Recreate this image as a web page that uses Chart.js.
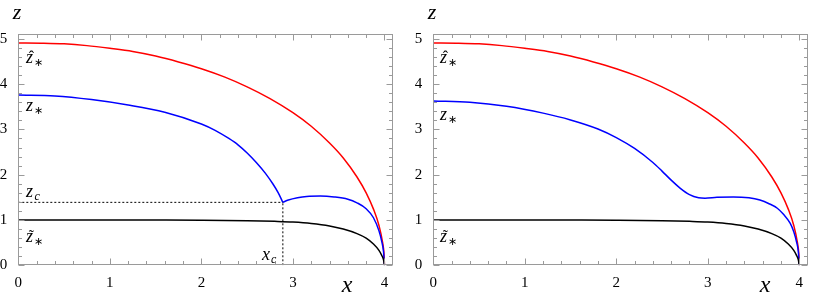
<!DOCTYPE html>
<html><head><meta charset="utf-8">
<script src="https://cdn.jsdelivr.net/npm/chart.js@4"></script>
<style>
body{margin:0;background:#fff;width:814px;height:300px;overflow:hidden;position:relative}
.p{position:absolute;top:0;width:407px;height:300px}
</style></head><body>
<div class="p" style="left:0"><canvas id="c1" width="407" height="300"></canvas></div>
<div class="p" style="left:407px"><canvas id="c2" width="407" height="300"></canvas></div>
<script>
// ---- data ----
const xTicks = [0, 1, 2, 3, 4];
const zTicks = [0, 1, 2, 3, 4, 5];

// red: z-hat-star (same in both panels)
const xRed = [0,0.25,0.5,0.75,1,1.25,1.5,1.75,2,2.25,2.5,2.75,3,3.2,3.4,3.55,3.7,3.8,3.88,3.94,3.98,3.995,4];
const zRed = [4.91,4.905,4.89,4.85,4.79,4.72,4.62,4.49,4.34,4.16,3.94,3.68,3.37,3.07,2.70,2.37,1.95,1.60,1.24,0.88,0.50,0.25,0];

// left panel blue: z-star, two branches meeting at the cusp (x_c, z_c)
const xBlueL1 = [0,0.4,0.8,1.2,1.6,2.0,2.15,2.3,2.4,2.5,2.6,2.7,2.78,2.84,2.89];
const zBlueL1 = [3.76,3.74,3.66,3.54,3.38,3.12,2.98,2.80,2.66,2.48,2.27,2.03,1.80,1.60,1.39];
const xBlueL2 = [2.89,2.95,3.05,3.15,3.3,3.45,3.6,3.7,3.8,3.88,3.94,3.97,3.99,4];
const zBlueL2 = [1.39,1.44,1.49,1.52,1.53,1.51,1.46,1.38,1.25,1.05,0.76,0.53,0.30,0];

// right panel blue
const xBlueR = [0,0.4,0.8,1.2,1.5,1.8,2.0,2.2,2.4,2.5,2.6,2.7,2.8,2.9,2.97,3.1,3.28,3.45,3.57,3.67,3.76,3.83,3.9,3.94,3.97,3.99,4];
const zBlueR = [3.63,3.60,3.51,3.36,3.21,3.01,2.82,2.58,2.27,2.08,1.88,1.70,1.56,1.49,1.48,1.50,1.51,1.49,1.44,1.36,1.26,1.12,0.93,0.74,0.52,0.30,0];

// black: z-tilde-star (same in both panels)
const xBlack = [0,0.5,1,1.5,2,2.5,2.8,3,3.2,3.4,3.55,3.7,3.8,3.88,3.94,3.97,3.99,4];
const zBlack = [1.0,1.0,1.0,0.998,0.995,0.985,0.97,0.955,0.925,0.87,0.80,0.70,0.60,0.47,0.33,0.22,0.12,0];

// critical point (left panel)
const xc = 2.89;
const zc = 1.39;

const X_MAX = 4.09, Z_MAX = 5.1;

// ---- helpers ----
function pts(xs, zs){ return xs.map((x,i)=>({x:x, y:zs[i]})); }
function line(xs, zs, color, extra){
  return Object.assign({data: pts(xs,zs), showLine:true, borderColor:color, backgroundColor:color,
    borderWidth:1.5, pointRadius:0, fill:false, cubicInterpolationMode:'monotone'}, extra||{});
}

const SERIF = "'Liberation Serif', 'Times New Roman', Times, serif";

function drawZ(ctx, x, base, accent, sub){
  ctx.fillStyle = '#000';
  ctx.textAlign = 'left'; ctx.textBaseline = 'alphabetic';
  ctx.font = "italic 18px " + SERIF;
  ctx.fillText('z', x, base);
  if (accent){
    ctx.font = "16px " + SERIF;
    ctx.textAlign = 'center';
    ctx.fillText(accent, x + 5.5, base - 1);
    ctx.textAlign = 'left';
  }
  if (sub === '*'){
    ctx.font = "11px " + SERIF;
    ctx.fillText('\u2217', x + 8, base + 3);
  } else if (sub){
    ctx.font = "italic 12px " + SERIF;
    ctx.fillText(sub, x + 8.5, base + 3);
  }
}

const framePlugin = {
  id: 'frame',
  afterDraw(chart, args, opts){
    const ctx = chart.ctx, a = chart.chartArea;
    const sx = chart.scales.x, sy = chart.scales.y;
    ctx.save();
    ctx.strokeStyle = '#9a9a9a'; ctx.lineWidth = 1;
    const L = Math.round(a.left)+0.5, R = Math.round(a.right)-0.5, T = Math.round(a.top)+0.5, B = Math.round(a.bottom)-0.5;
    ctx.strokeRect(L, T, R-L, B-T);
    ctx.beginPath();
    for (let k = 0; k <= 20; k++){
      const v = k/5; if (v > X_MAX) break;
      const px = Math.round(sx.getPixelForValue(v)) + 0.5;
      const len = (k % 5 === 0) ? 6 : 3.5;
      ctx.moveTo(px, B); ctx.lineTo(px, B-len);
      ctx.moveTo(px, T); ctx.lineTo(px, T+len);
    }
    for (let k = 0; k <= 25; k++){
      const v = k/5; if (v > Z_MAX) break;
      const py = Math.round(sy.getPixelForValue(v)) + 0.5;
      const len = (k % 5 === 0) ? 6 : 3.5;
      ctx.moveTo(L, py); ctx.lineTo(L+len, py);
      ctx.moveTo(R, py); ctx.lineTo(R-len, py);
    }
    ctx.stroke();
    ctx.fillStyle = '#000';
    ctx.textAlign = 'center'; ctx.textBaseline = 'alphabetic';
    ctx.font = "italic 22px " + SERIF;
    ctx.fillText('z', opts.zTitle[0], opts.zTitle[1]);
    ctx.font = "italic 24px " + SERIF;
    ctx.fillText('x', opts.xTitle[0], opts.xTitle[1]);
    for (const lb of opts.labels){
      if (lb.kind === 'xc'){
        ctx.font = "italic 18px " + SERIF; ctx.textAlign = 'left';
        ctx.fillText('x', lb.x, lb.y);
        ctx.font = "italic 12px " + SERIF;
        ctx.fillText('c', lb.x + 9, lb.y + 3);
      } else {
        drawZ(ctx, lb.x, lb.y, lb.accent, lb.sub);
      }
    }
    ctx.restore();
  }
};

function makeChart(id, datasets, padLeft, padRight, frameOpts){
  return new Chart(document.getElementById(id), {
    type: 'scatter',
    data: { datasets: datasets },
    options: {
      responsive: false, animation: false, devicePixelRatio: 1,
      layout: { padding: { left: padLeft, right: padRight, top: 34.3, bottom: 0 } },
      plugins: { legend: { display: false }, tooltip: { enabled: false }, frame: frameOpts },
      scales: {
        x: { type: 'linear', min: 0, max: X_MAX,
             grid: { display: false }, border: { display: false },
             afterBuildTicks: s => { s.ticks = xTicks.map(v => ({value: v})); },
             ticks: { padding: 1, color: '#000', maxRotation: 0, autoSkip: false,
                      font: { family: SERIF, size: 15 } },
             afterFit: s => { s.height = 34.7; } },
        y: { type: 'linear', min: 0, max: Z_MAX,
             grid: { display: false }, border: { display: false },
             afterBuildTicks: s => { s.ticks = zTicks.map(v => ({value: v})); },
             ticks: { padding: 3, color: '#000', autoSkip: false,
                      font: { family: SERIF, size: 15 } },
             afterFit: s => { s.width = 18.3; } }
      }
    },
    plugins: [framePlugin]
  });
}

const dotted = { borderColor: '#000', borderWidth: 1, borderDash: [2, 2], cubicInterpolationMode: 'default' };

function build(){
  makeChart('c1', [
    line([0, xc], [zc, zc], '#000', dotted),
    line([xc, xc], [0, zc], '#000', dotted),
    line(xBlack, zBlack, '#000'),
    line(xBlueL1, zBlueL1, '#0000ff'),
    line(xBlueL2, zBlueL2, '#0000ff'),
    line(xRed, zRed, '#ff0000')
  ], 0, 14.3, {
    zTitle: [17, 19], xTitle: [347, 292],
    labels: [
      {x: 26, y: 63, accent: '\u02C6', sub: '*'},
      {x: 26, y: 111, sub: '*'},
      {x: 26, y: 197, sub: 'c'},
      {x: 26, y: 242, accent: '\u02DC', sub: '*'},
      {kind: 'xc', x: 262, y: 260}
    ]
  });
  makeChart('c2', [
    line(xBlack, zBlack, '#000'),
    line(xBlueR, zBlueR, '#0000ff'),
    line(xRed, zRed, '#ff0000')
  ], 8, 6.5, {
    zTitle: [25, 19], xTitle: [358, 292],
    labels: [
      {x: 33, y: 63, accent: '\u02C6', sub: '*'},
      {x: 33, y: 120, sub: '*'},
      {x: 33, y: 242, accent: '\u02DC', sub: '*'}
    ]
  });
}

Promise.all([
  document.fonts.load("15px 'Liberation Serif'"),
  document.fonts.load("italic 18px 'Liberation Serif'")
]).catch(()=>{}).then(build);
</script>
</body></html>
